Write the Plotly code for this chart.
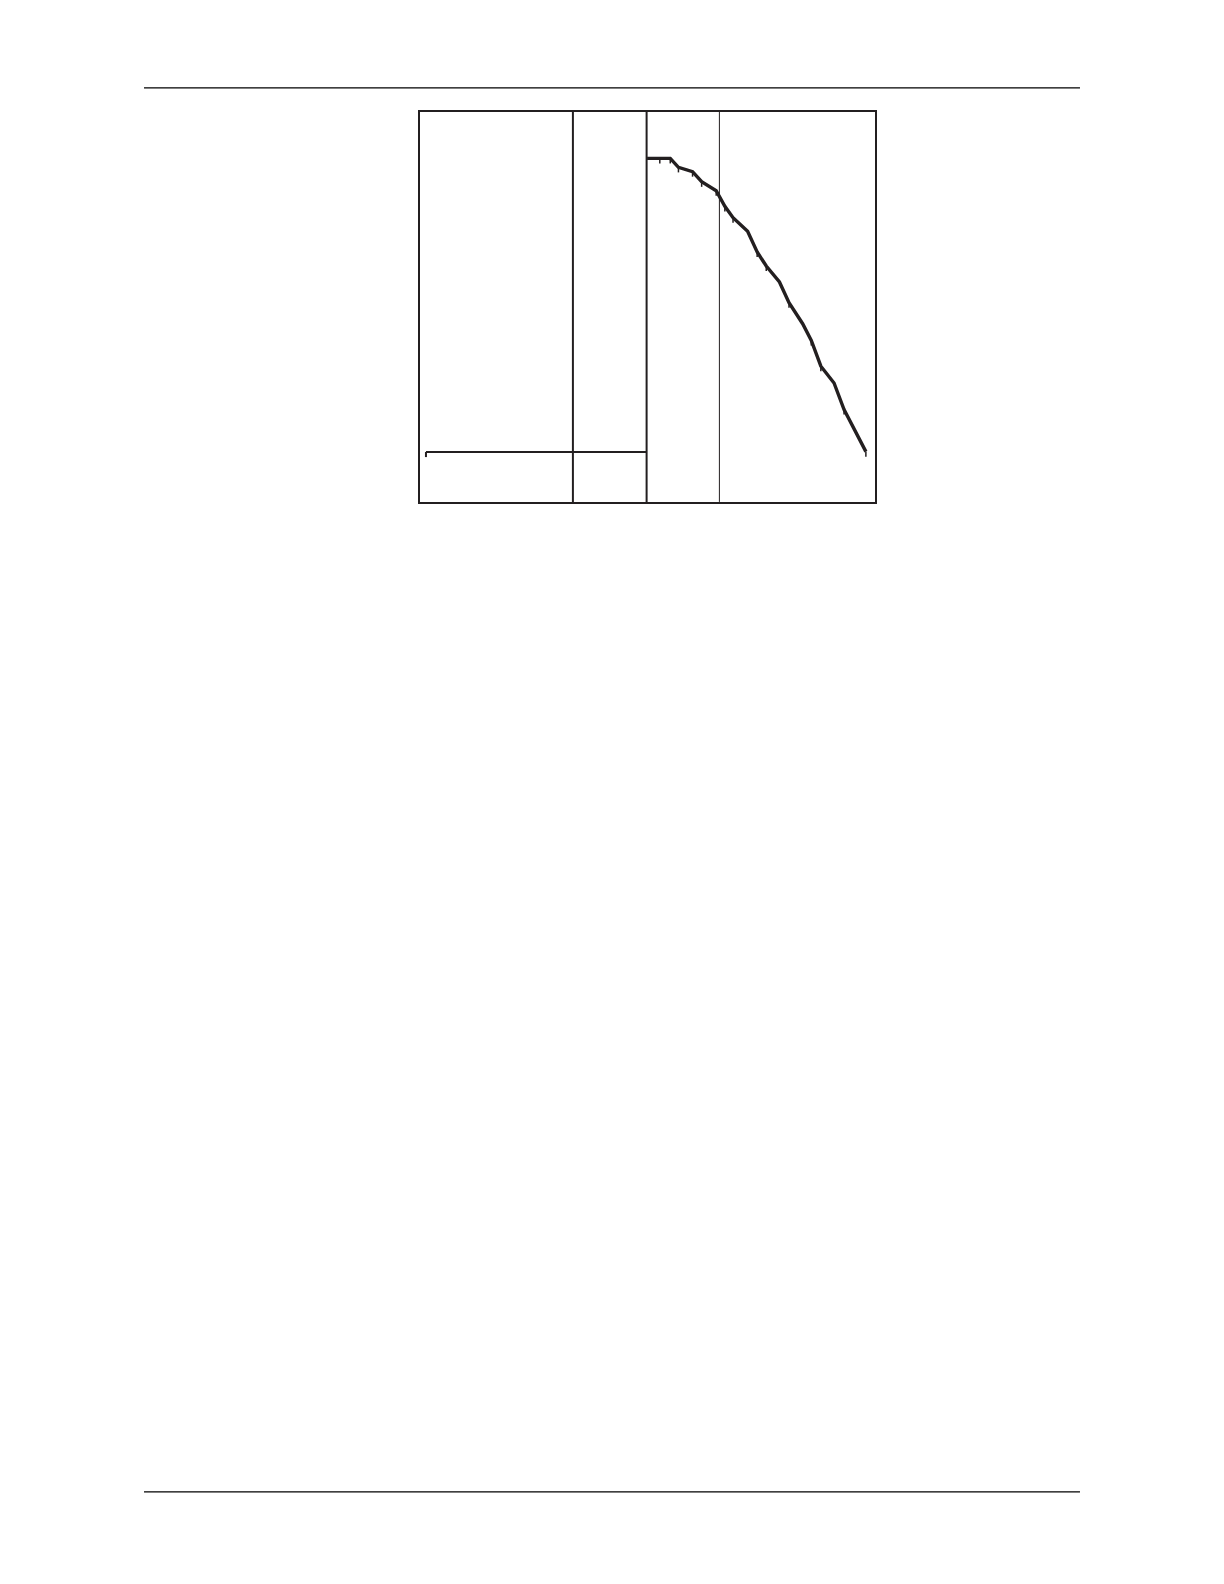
import plotly.graph_objects as go

# main decline curve (x in %, y in %)
curve_x = [49.9, 55.0, 56.8, 59.9, 61.9, 65.1, 67.0, 68.8, 72.0, 74.1,
           76.1, 79.0, 81.1, 84.1, 86.0, 88.1, 91.0, 93.2, 98.0]
curve_y = [88.1, 88.1, 85.8, 84.7, 82.1, 79.8, 75.8, 72.9, 69.4, 64.1,
           60.5, 56.4, 51.1, 45.7, 41.4, 34.8, 30.5, 23.7, 12.9]
# small tick marks hanging under the curve
tick_x = [52.7, 55.0, 56.8, 59.9, 61.9, 65.1, 67.0, 68.8, 74.1, 76.1,
          81.1, 86.0, 88.1, 93.2, 98.0]

# baseline level on the left
base_x = [1.3, 49.8]
base_y = [12.8, 12.8]

# vertical dividers
div_thick = [33.6, 49.8]
div_thin = [65.8]

INK = "#231f20"

fig = go.Figure()

for xv in div_thick:
    fig.add_trace(go.Scatter(x=[xv, xv], y=[0, 100], mode="lines",
                             line=dict(color=INK, width=2), hoverinfo="skip"))
for xv in div_thin:
    fig.add_trace(go.Scatter(x=[xv, xv], y=[0, 100], mode="lines",
                             line=dict(color=INK, width=1), hoverinfo="skip"))

fig.add_trace(go.Scatter(x=base_x, y=base_y, mode="lines",
                         line=dict(color=INK, width=2)))
# tick at left end of baseline
fig.add_trace(go.Scatter(x=[base_x[0], base_x[0]], y=[base_y[0], base_y[0] - 1.3],
                         mode="lines", line=dict(color=INK, width=2)))

fig.add_trace(go.Scatter(x=curve_x, y=curve_y, mode="lines",
                         line=dict(color=INK, width=3.4)))

# ticks: look up the curve height at each tick position
tx, ty = [], []
for t in tick_x:
    for i in range(len(curve_x) - 1):
        if curve_x[i] <= t <= curve_x[i + 1]:
            f = (t - curve_x[i]) / (curve_x[i + 1] - curve_x[i])
            yv = curve_y[i] + f * (curve_y[i + 1] - curve_y[i])
            break
    tx += [t, t, None]
    ty += [yv, yv - 1.3, None]
fig.add_trace(go.Scatter(x=tx, y=ty, mode="lines",
                         line=dict(color=INK, width=1.5)))

axis_style = dict(showline=True, mirror=True, linecolor=INK, linewidth=2,
                  showgrid=False, zeroline=False, showticklabels=False,
                  ticks="")

fig.update_layout(
    width=1208, height=1568,
    margin=dict(l=0, r=0, t=0, b=0),
    paper_bgcolor="white", plot_bgcolor="white",
    showlegend=False,
    xaxis=dict(range=[0, 100], domain=[0.3411, 0.7177], **axis_style),
    yaxis=dict(range=[0, 100], domain=[0.6850, 0.9337], **axis_style),
    shapes=[
        # page header and footer rules
        dict(type="line", xref="paper", yref="paper", x0=0.1126, x1=0.8874,
             y0=0.949, y1=0.949, line=dict(color="black", width=1.3)),
        dict(type="line", xref="paper", yref="paper", x0=0.1126, x1=0.8874,
             y0=0.0536, y1=0.0536, line=dict(color="black", width=1.3)),
    ],
)

fig.write_html("out.html")
